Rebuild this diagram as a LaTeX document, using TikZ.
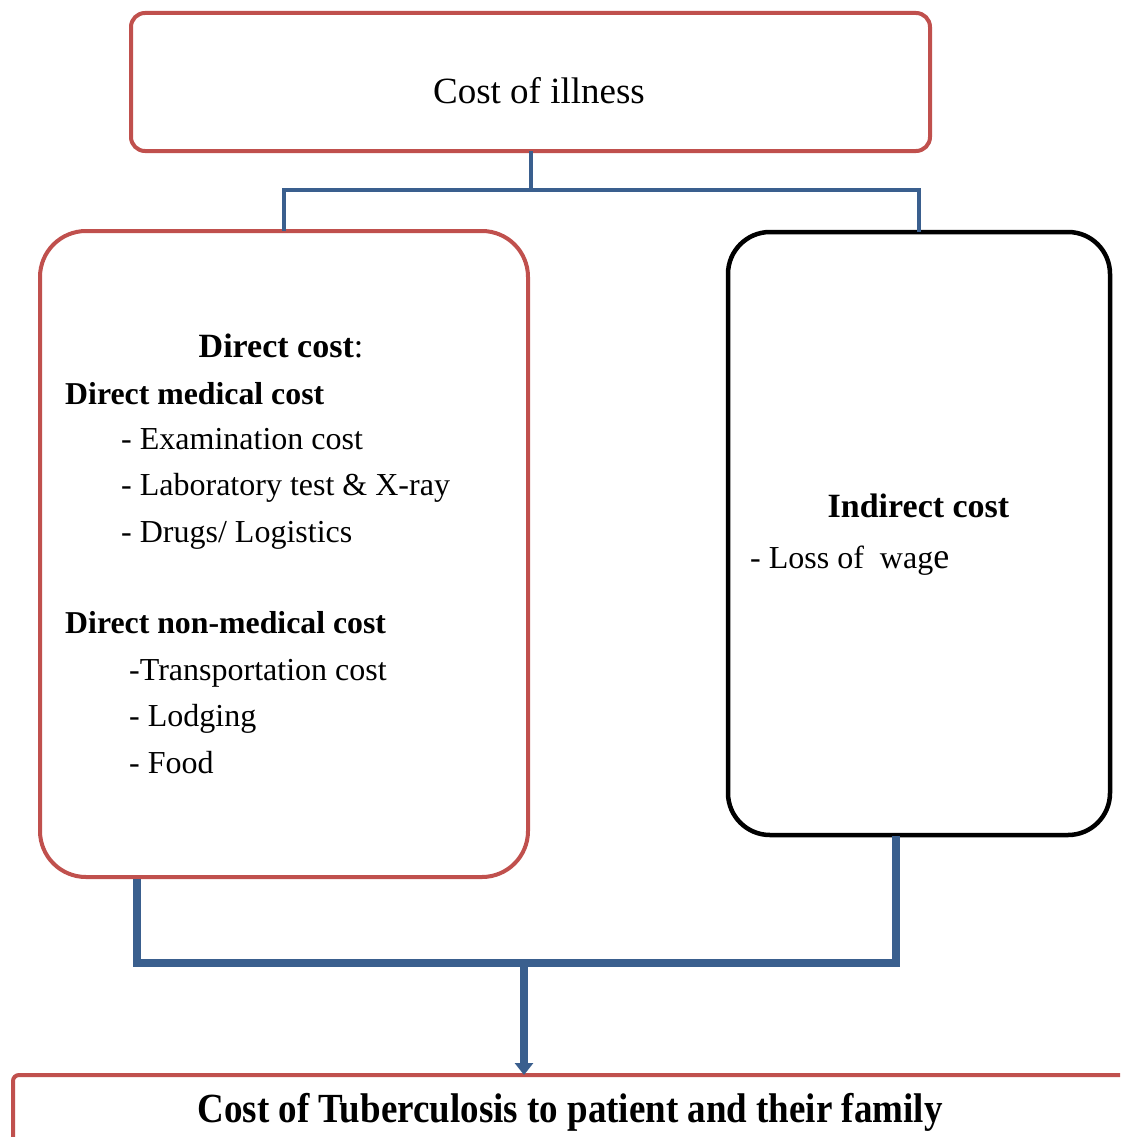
\documentclass[tikz,border=0pt]{standalone}
\usepackage{fontspec}
\setmainfont{Liberation Serif}
\usetikzlibrary{arrows.meta,calc}
\definecolor{boxred}{HTML}{C0504D}
\definecolor{connblue}{HTML}{3A5F8E}
\begin{document}
\begin{tikzpicture}[x=1pt,y=-1pt,
  box/.style={draw, rectangle, inner sep=0pt, outer sep=0pt, fill=white},
  redbox/.style={box, draw=boxred, line width=4pt},
  blackbox/.style={box, draw=black, line width=4.5pt},
  conn/.style={draw=connblue, line width=4pt},
  bigconn/.style={draw=connblue, line width=8pt},
  body/.style={inner sep=0pt, font=\fontsize{32pt}{38pt}\selectfont},
  head/.style={inner sep=0pt, font=\fontsize{34pt}{40pt}\selectfont\bfseries},
  subhead/.style={inner sep=0pt, font=\fontsize{31.8pt}{38pt}\selectfont\bfseries}]
\useasboundingbox (0,0) rectangle (1120,1137);
\clip (0,0) rectangle (1120,1137);
% boxes
\node[redbox, rounded corners=14pt, minimum width=799pt, minimum height=138pt] (top) at (530.5,82) {};
\node[redbox, rounded corners=46pt, minimum width=488pt, minimum height=646pt] (left) at (284,554) {};
\node[blackbox, rounded corners=42pt, minimum width=382pt, minimum height=603pt] (right) at (919,533.5) {};
\node[redbox, rounded corners=6pt, minimum width=1150pt, minimum height=160pt, anchor=north west] (bot) at (13,1075) {};
% texts
\node[anchor=base, inner sep=0pt, font=\fontsize{37pt}{44pt}\selectfont] (t0) at (539,103) {Cost of illness};
\node[anchor=base, inner sep=0pt] (t1) at (281,357) {\fontsize{34pt}{40pt}\selectfont\textbf{Direct cost}:};
\node[subhead, anchor=base west] (t2) at (65,404) {Direct medical cost};
\node[body, anchor=base west] (t3) at (121,449) {- Examination cost};
\node[body, anchor=base west] (t4) at (121,495.5) {- Laboratory test \& X-ray};
\node[body, anchor=base west] (t5) at (121,542) {- Drugs/ Logistics};
\node[subhead, anchor=base west] (t6) at (65,633) {Direct non-medical cost};
\node[body, anchor=base west] (t7) at (129,680) {-Transportation cost};
\node[body, anchor=base west] (t8) at (129,726.5) {- Lodging};
\node[body, anchor=base west] (t9) at (129,773) {- Food};
\node[head, anchor=base] (t10) at (918.5,517) {Indirect cost};
\node[body, anchor=base west] (t11) at (750,568) {- Loss of\ \ wag{\fontsize{36pt}{40pt}\selectfont e}};
\node[anchor=base, inner sep=0pt, font=\fontsize{37pt}{44pt}\selectfont\bfseries] (t12) at (570,1122) {\scalebox{1}[1.12]{Cost of Tuberculosis to patient and their family}};
% top connectors
\coordinate (split) at ($(top.south)+(0,39)$);
\draw[conn] (top.south) -- (split) -| (left.north);
\draw[conn] (split) -| (right.north);
% bottom connectors
\coordinate (lb) at (137,879);
\coordinate (rb) at (896,836);
\coordinate (jn) at (524,963);
\draw[bigconn] (lb) |- (jn) -| (rb);
\draw[bigconn, -{Triangle[length=12pt,width=18pt]}] (jn) -- (jn |- bot.north);
\end{tikzpicture}
\end{document}
